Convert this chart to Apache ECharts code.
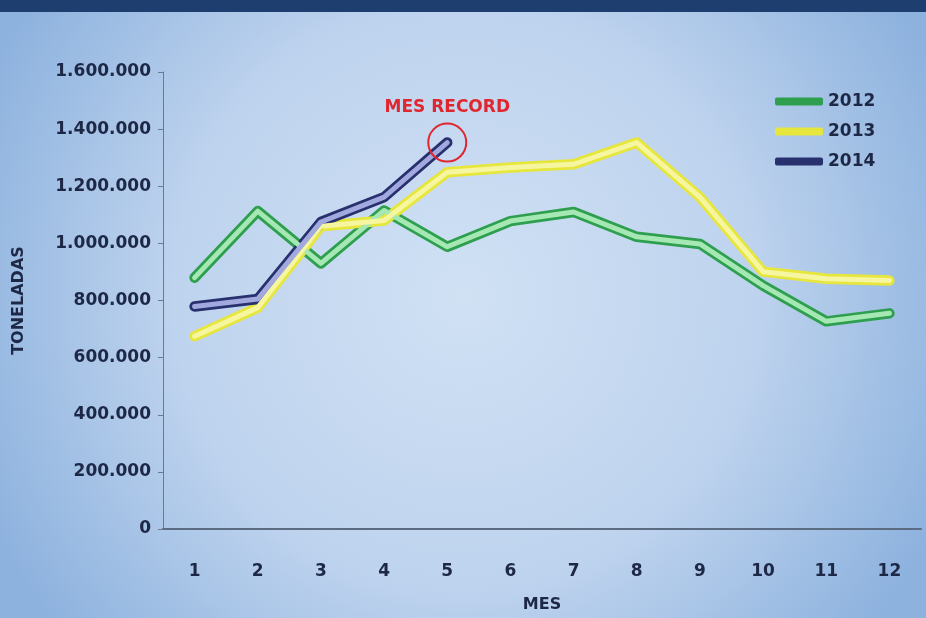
<!DOCTYPE html>
<html>
<head>
<meta charset="utf-8">
<script src="https://cdn.jsdelivr.net/npm/echarts@6/dist/echarts.min.js"></script>
<style>
  html, body { margin: 0; padding: 0; }
  #chart { width: 926px; height: 618px; }
</style>
</head>
<body>
<div id="chart"></div>
<script>
// Monthly tonnage per year
const months = ['1', '2', '3', '4', '5', '6', '7', '8', '9', '10', '11', '12'];
const values2012 = [880000, 1113000, 930000, 1115000, 988000, 1078000, 1110000, 1023000, 998000, 852000, 727000, 755000];
const values2013 = [675000, 775000, 1060000, 1080000, 1249000, 1266000, 1277000, 1353000, 1162000, 901000, 876000, 870000];
const values2014 = [779000, 805000, 1075000, 1162000, 1353000];
const yearNames = ['2012', '2013', '2014'];
const recordMonth = '5';
const recordLabel = 'MES RECORD';

const textColor = '#1d2746';
const font = '"DejaVu Sans", sans-serif';

function thousands(v) {
  return String(v).replace(/\B(?=(\d{3})+(?!\d))/g, '.');
}

// Each year is drawn as a wide dark stroke with a lighter stroke on top
function outlinedLine(name, data, outer, inner, extra) {
  const base = { type: 'line', data: data, symbol: 'none', silent: true };
  const o = Object.assign({}, base, {
    name: name,
    itemStyle: { color: outer },
    lineStyle: { color: outer, width: 10.5, cap: 'round', join: 'round' },
    z: 2
  });
  const i = Object.assign({}, base, {
    name: name + ' ',
    itemStyle: { color: inner },
    lineStyle: { color: inner, width: 5, cap: 'round', join: 'round' },
    z: 3
  }, extra || {});
  return [o, i];
}

const chart = echarts.init(document.getElementById('chart'));
chart.setOption({
  animation: false,
  graphic: [
    {
      type: 'rect', z: -10, silent: true,
      shape: { x: 0, y: 0, width: 926, height: 618 },
      style: {
        fill: {
          type: 'radial', x: 0.5, y: 0.48, r: 0.85,
          colorStops: [
            { offset: 0, color: '#d0e1f4' },
            { offset: 0.55, color: '#bed3ee' },
            { offset: 1, color: '#8db2de' }
          ]
        }
      }
    },
    {
      type: 'rect', z: -9, silent: true,
      shape: { x: 0, y: 0, width: 926, height: 12 },
      style: { fill: '#1d3e6e' }
    }
  ],
  legend: {
    orient: 'vertical',
    left: 770, top: 88,
    itemWidth: 48, itemHeight: 8,
    itemGap: 13,
    icon: 'roundRect',
    data: yearNames,
    textStyle: { color: textColor, fontFamily: font, fontWeight: 'bold', fontSize: 17 }
  },
  grid: { left: 163, right: 5, top: 72, bottom: 86 },
  xAxis: {
    type: 'category',
    data: months,
    boundaryGap: true,
    name: 'MES',
    nameLocation: 'middle',
    nameGap: 68,
    nameTextStyle: { color: textColor, fontFamily: font, fontWeight: 'bold', fontSize: 16 },
    axisLine: { lineStyle: { color: '#5b6b82', width: 2 } },
    axisTick: { show: false },
    axisLabel: { color: textColor, fontFamily: font, fontWeight: 'bold', fontSize: 17, margin: 34 }
  },
  yAxis: {
    type: 'value',
    min: 0, max: 1600000, interval: 200000,
    name: 'TONELADAS',
    nameLocation: 'middle',
    nameGap: 136,
    nameRotate: 90,
    nameTextStyle: { color: textColor, fontFamily: font, fontWeight: 'bold', fontSize: 16 },
    axisLine: { show: true, lineStyle: { color: '#6b7a90', width: 1 } },
    axisTick: { show: true, length: 5, lineStyle: { color: '#6b7a90' } },
    splitLine: { show: false },
    axisLabel: {
      color: textColor, fontFamily: font, fontWeight: 'bold', fontSize: 17, margin: 12,
      formatter: thousands
    }
  },
  series: [].concat(
    outlinedLine(yearNames[0], values2012, '#2e9f4e', '#a6e8b4'),
    outlinedLine(yearNames[1], values2013, '#e6e63c', '#f6f6a0'),
    outlinedLine(yearNames[2], values2014, '#28316e', '#a2a9de', {
      markPoint: {
        silent: true,
        symbol: 'circle',
        symbolSize: 38,
        itemStyle: { color: 'rgba(0,0,0,0)', borderColor: '#e0262e', borderWidth: 2 },
        label: {
          show: true, position: 'top', distance: 6,
          formatter: recordLabel,
          color: '#e0262e', fontFamily: font, fontWeight: 'bold', fontSize: 17
        },
        data: [{ coord: [recordMonth, values2014[values2014.length - 1]] }]
      }
    })
  )
});
</script>
</body>
</html>
